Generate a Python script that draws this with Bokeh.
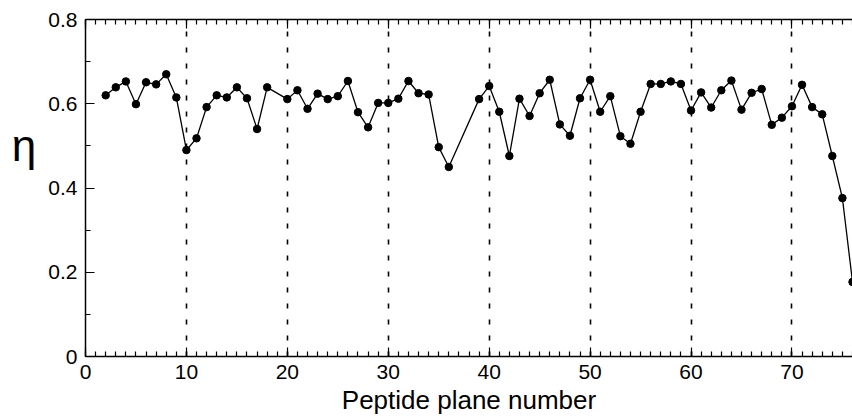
from bokeh.plotting import figure
from bokeh.models import LinearAxis, SingleIntervalTicker, Range1d, CustomJSTickFormatter
from bokeh.embed import file_html
from bokeh.resources import INLINE

plane = [2, 3, 4, 5, 6, 7, 8, 9, 10, 11, 12, 13, 14, 15, 16, 17, 18,
         20, 21, 22, 23, 24, 25, 26, 27, 28, 29, 30, 31, 32, 33, 34, 35, 36,
         39, 40, 41, 42, 43, 44, 45, 46, 47, 48, 49, 50, 51, 52, 53, 54, 55,
         56, 57, 58, 59, 60, 61, 62, 63, 64, 65, 66, 67, 68, 69, 70, 71, 72,
         73, 74, 75, 76]
eta = [0.620, 0.639, 0.653, 0.599, 0.651, 0.646, 0.670, 0.615, 0.490, 0.518,
       0.592, 0.620, 0.615, 0.639, 0.613, 0.540, 0.639,
       0.611, 0.632, 0.588, 0.624, 0.611, 0.618, 0.654, 0.580, 0.544, 0.602,
       0.602, 0.612, 0.654, 0.625, 0.622, 0.497, 0.450,
       0.611, 0.642, 0.581, 0.476, 0.612, 0.571, 0.625, 0.657, 0.551, 0.524,
       0.613, 0.657, 0.581, 0.618, 0.523, 0.505, 0.581,
       0.647, 0.647, 0.653, 0.647, 0.584, 0.627, 0.591, 0.632, 0.655, 0.586,
       0.626, 0.635, 0.550, 0.567, 0.594, 0.645, 0.592,
       0.575, 0.476, 0.376, 0.177]

FONT = "Liberation Sans"

p = figure(width=852, height=417, output_backend="svg", toolbar_location=None,
           x_range=Range1d(0, 76), y_range=Range1d(0, 0.8),
           x_axis_location=None, y_axis_location=None,
           min_border_left=85, min_border_right=0, min_border_top=19,
           min_border_bottom=59)
p.outline_line_color = None
p.background_fill_color = "white"
p.border_fill_color = "white"

xt = SingleIntervalTicker(interval=10, num_minor_ticks=10)
yt = SingleIntervalTicker(interval=0.2, num_minor_ticks=2)

def style(ax):
    ax.axis_line_color = "black"
    ax.axis_line_width = 1.5
    ax.major_tick_in = 9
    ax.major_tick_out = 0
    ax.minor_tick_in = 5
    ax.minor_tick_out = 0
    ax.major_tick_line_color = "black"
    ax.minor_tick_line_color = "black"
    ax.major_tick_line_width = 1.2
    ax.minor_tick_line_width = 1.2
    ax.major_label_text_font = FONT
    ax.major_label_text_font_size = "21px"
    ax.major_label_text_color = "black"

bx = LinearAxis(ticker=xt, axis_label="Peptide plane number")
style(bx)
bx.major_label_standoff = 8
bx.axis_label_text_font = FONT
bx.axis_label_text_font_size = "26px"
bx.axis_label_text_font_style = "normal"
bx.axis_label_text_color = "black"
bx.axis_label_standoff = 3
p.add_layout(bx, "below")

tx = LinearAxis(ticker=xt, formatter=CustomJSTickFormatter(code="return ''"))
style(tx)
tx.major_label_standoff = 0
p.add_layout(tx, "above")

ly = LinearAxis(ticker=yt, axis_label="η\n ")
style(ly)
ly.major_label_standoff = 8
ly.axis_label_orientation = "horizontal"
ly.axis_label_text_font = FONT
ly.axis_label_text_font_size = "44px"
ly.axis_label_text_font_style = "normal"
ly.axis_label_text_color = "black"
ly.axis_label_text_line_height = 1.75
ly.axis_label_standoff = 9
p.add_layout(ly, "left")

p.xgrid.ticker = xt
p.xgrid.grid_line_color = "black"
p.xgrid.grid_line_dash = "5 11"
p.xgrid.grid_line_width = 1.6
p.ygrid.grid_line_color = None

p.line(plane, eta, line_color="black", line_width=1.3)
p.scatter(plane, eta, size=7.5, fill_color="black", line_color="black")

open("out.html", "w").write(file_html(p, INLINE))
